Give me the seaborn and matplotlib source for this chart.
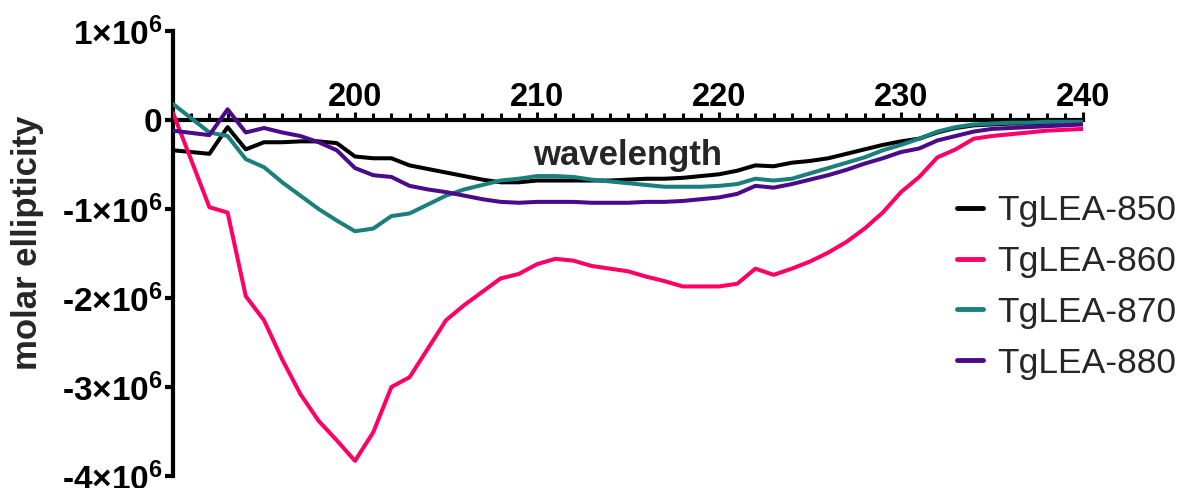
import numpy as np
import pandas as pd
import matplotlib
matplotlib.use("Agg")
import matplotlib.pyplot as plt
import seaborn as sns
from matplotlib.ticker import MultipleLocator

wavelength = [190, 192, 193, 194, 195, 196, 197, 198, 199, 200,
              201, 202, 203, 204, 205, 206, 207, 208, 209, 210,
              211, 212, 213, 214, 215, 216, 217, 218, 219, 220,
              221, 222, 223, 224, 225, 226, 227, 228, 229, 230,
              231, 232, 233, 234, 235, 236, 237, 238, 239, 240]

tglea_850 = [-0.34, -0.38, -0.08, -0.33, -0.25, -0.25, -0.24, -0.24, -0.26, -0.41,
             -0.43, -0.43, -0.51, -0.55, -0.59, -0.63, -0.67, -0.70, -0.70, -0.68,
             -0.68, -0.68, -0.68, -0.68, -0.67, -0.66, -0.66, -0.65, -0.63, -0.61,
             -0.57, -0.51, -0.52, -0.48, -0.46, -0.43, -0.38, -0.33, -0.28, -0.24,
             -0.21, -0.14, -0.09, -0.06, -0.05, -0.04, -0.04, -0.03, -0.03, -0.03]

tglea_860 = [0.08, -0.98, -1.04, -1.98, -2.25, -2.69, -3.08, -3.38, -3.60, -3.83,
             -3.51, -3.00, -2.89, -2.57, -2.25, -2.08, -1.93, -1.78, -1.73, -1.62,
             -1.56, -1.58, -1.64, -1.67, -1.70, -1.76, -1.81, -1.87, -1.87, -1.87,
             -1.84, -1.67, -1.74, -1.67, -1.59, -1.49, -1.37, -1.22, -1.04, -0.81,
             -0.64, -0.42, -0.33, -0.21, -0.18, -0.16, -0.14, -0.12, -0.11, -0.10]

tglea_870 = [0.18, -0.14, -0.18, -0.44, -0.53, -0.70, -0.85, -1.00, -1.13, -1.25,
             -1.22, -1.08, -1.05, -0.95, -0.85, -0.78, -0.73, -0.68, -0.66, -0.63,
             -0.63, -0.64, -0.67, -0.69, -0.71, -0.73, -0.75, -0.75, -0.75, -0.74,
             -0.72, -0.66, -0.68, -0.66, -0.60, -0.54, -0.48, -0.42, -0.34, -0.28,
             -0.21, -0.13, -0.08, -0.05, -0.04, -0.03, -0.03, -0.02, -0.02, -0.02]

tglea_880 = [-0.12, -0.17, 0.12, -0.14, -0.09, -0.14, -0.18, -0.25, -0.34, -0.54,
             -0.62, -0.64, -0.74, -0.78, -0.81, -0.85, -0.89, -0.92, -0.93, -0.92,
             -0.92, -0.92, -0.93, -0.93, -0.93, -0.92, -0.92, -0.91, -0.89, -0.87,
             -0.83, -0.74, -0.76, -0.72, -0.67, -0.62, -0.56, -0.49, -0.43, -0.36,
             -0.32, -0.23, -0.18, -0.13, -0.10, -0.09, -0.08, -0.07, -0.06, -0.05]

series_names = ["TgLEA-850", "TgLEA-860", "TgLEA-870", "TgLEA-880"]
colors = ["#000000", "#FF0066", "#1A807C", "#4A0A8A"]
x_ticks = [200, 210, 220, 230, 240]
y_ticks = [1e6, 0, -1e6, -2e6, -3e6, -4e6]
y_ticklabels = ["1×10$^{6}$", "0", "-1×10$^{6}$", "-2×10$^{6}$", "-3×10$^{6}$", "-4×10$^{6}$"]

scale = 1e6
frames = []
for name, vals in zip(series_names, [tglea_850, tglea_860, tglea_870, tglea_880]):
    frames.append(pd.DataFrame({"wavelength": wavelength,
                                "ellipticity": np.array(vals) * scale,
                                "series": name}))
df = pd.concat(frames, ignore_index=True)

sns.set_style("white")
plt.rcParams["font.family"] = ["Liberation Sans", "DejaVu Sans"]
plt.rcParams["mathtext.fontset"] = "custom"
plt.rcParams["mathtext.rm"] = "Liberation Sans:bold"
plt.rcParams["mathtext.it"] = "Liberation Sans:bold"
plt.rcParams["mathtext.bf"] = "Liberation Sans:bold"
plt.rcParams["mathtext.default"] = "rm"

fig = plt.figure(figsize=(11.91, 4.88), dpi=100)
ax = fig.add_axes([173/1191, 1 - 476/488, (1083-173)/1191, (476-31)/488])

sns.lineplot(data=df, x="wavelength", y="ellipticity", hue="series",
             palette=dict(zip(series_names, colors)), linewidth=2.9,
             ax=ax, legend=True, zorder=3, sort=False)

ax.set_xlim(190, 240)
ax.set_ylim(-4e6, 1e6)

for s in ["bottom", "right"]:
    ax.spines[s].set_visible(False)
ax.spines["top"].set_position(("data", 0))
ax.spines["top"].set_linewidth(3.0)
ax.spines["left"].set_linewidth(3.0)
ax.spines["top"].set_color("black")
ax.spines["left"].set_color("black")

ax.xaxis.set_ticks_position("top")
ax.xaxis.set_label_position("top")
ax.set_xticks(x_ticks)
ax.set_xticklabels([str(t) for t in x_ticks])
ax.xaxis.set_minor_locator(MultipleLocator(1))
ax.tick_params(axis="x", which="major", direction="out", length=6, width=2.2,
               pad=-1, labelsize=23.5, colors="black")
ax.tick_params(axis="x", which="minor", direction="out", length=5, width=2.2,
               colors="black")
for lab in ax.get_xticklabels():
    lab.set_fontweight("bold")

ax.set_yticks(y_ticks)
ax.set_yticklabels(y_ticklabels)
ax.tick_params(axis="y", which="major", direction="out", length=6, width=3,
               pad=1.5, labelsize=24, colors="black", left=True)
for lab in ax.get_yticklabels():
    lab.set_fontweight("bold")

ax.set_ylabel("molar ellipticity", fontsize=25, fontweight="bold")
ax.yaxis.set_label_coords((44-173)/910, (476-243)/445)

ax.set_xlabel("")
ax.text(0.5, (476-155)/445, "wavelength", transform=ax.transAxes,
        ha="center", va="center", fontsize=25, fontweight="bold")

handles, labels = ax.get_legend_handles_labels()
leg = ax.legend(handles, labels, loc="center left",
                bbox_to_anchor=(957/1191, 1 - 287/488),
                bbox_transform=fig.transFigure, frameon=False, fontsize=25.5,
                handlelength=0.72, handletextpad=0.42, labelspacing=0.5,
                borderpad=0, borderaxespad=0)
for line in leg.get_lines():
    line.set_linewidth(3.5)

fig.savefig("out.png", dpi=100)
